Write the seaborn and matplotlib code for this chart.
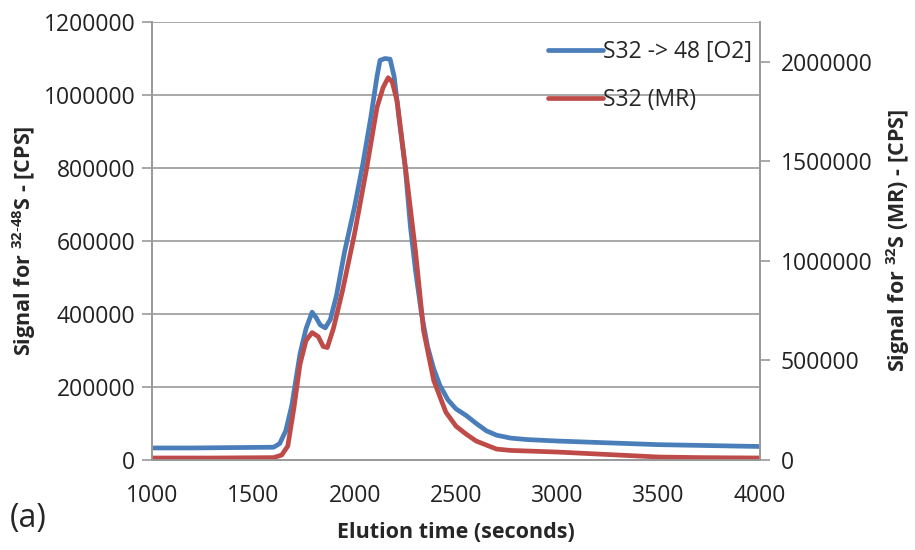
import numpy as np
import matplotlib
matplotlib.use("Agg")
import matplotlib.pyplot as plt
import matplotlib.ticker as mticker
import pandas as pd
import seaborn as sns

# S32 -> 48 [O2], left axis
t_blue = [1000, 1200, 1400, 1600, 1630, 1660, 1690, 1710, 1730, 1760, 1790, 1810, 1830, 1855,
          1880, 1910, 1950, 2000, 2040, 2080, 2110, 2125, 2150, 2175, 2195, 2220, 2250, 2275,
          2300, 2330, 2360, 2390, 2420, 2460, 2500, 2550, 2600, 2650, 2700, 2770, 2850, 3000,
          3200, 3500, 3800, 4000]
sig_blue = [33000, 33000, 34000, 35000, 45000, 80000, 150000, 220000, 290000, 360000, 405000,
            390000, 370000, 362000, 385000, 450000, 570000, 695000, 810000, 940000, 1050000,
            1095000, 1100000, 1098000, 1050000, 930000, 800000, 640000, 520000, 400000, 310000,
            250000, 205000, 165000, 140000, 122000, 100000, 80000, 68000, 60000, 56000, 52000,
            48000, 42000, 39000, 37000]

# S32 (MR), right axis
t_red = [1000, 1300, 1600, 1640, 1670, 1700, 1730, 1760, 1790, 1820, 1845, 1865, 1895, 1940,
         2000, 2060, 2110, 2140, 2165, 2185, 2210, 2260, 2300, 2340, 2390, 2450, 2500, 2550,
         2600, 2650, 2700, 2770, 3000, 3300, 3500, 3700, 4000]
sig_red = [10000, 10000, 12000, 25000, 70000, 260000, 480000, 600000, 640000, 620000, 570000,
           565000, 660000, 850000, 1140000, 1470000, 1770000, 1870000, 1920000, 1900000,
           1800000, 1390000, 1050000, 650000, 400000, 240000, 170000, 130000, 95000, 75000,
           55000, 48000, 40000, 25000, 15000, 12000, 10000]

left_ticks = [0, 200000, 400000, 600000, 800000, 1000000, 1200000]
right_ticks = [0, 500000, 1000000, 1500000, 2000000]
x_ticks = [1000, 1500, 2000, 2500, 3000, 3500, 4000]

sns.set_style("white")
plt.rcParams['font.family'] = ['Open Sans', 'DejaVu Sans']
plt.rcParams['mathtext.fontset'] = 'custom'
plt.rcParams['mathtext.rm'] = 'Open Sans'
plt.rcParams['mathtext.bf'] = 'Open Sans:bold'

blue = "#4A7EBB"
red = "#BE4B48"
grey = "#999999"

fig = plt.figure(figsize=(9.15, 5.5), dpi=100)
ax = fig.add_axes([152 / 915, 90 / 550, 608 / 915, 438 / 550])
ax2 = ax.twinx()

df_b = pd.DataFrame({"t": t_blue, "s": sig_blue})
df_r = pd.DataFrame({"t": t_red, "s": sig_red})
sns.lineplot(data=df_b, x="t", y="s", ax=ax, color=blue, linewidth=3.4, label="S32 -> 48 [O2]", legend=False)
sns.lineplot(data=df_r, x="t", y="s", ax=ax2, color=red, linewidth=3.4, label="S32 (MR)", legend=False)

ax.set_xlim(1000, 4000)
ax.set_ylim(0, 1200000)
ax2.set_ylim(0, 2200000)
ax.set_xticks(x_ticks)
ax.set_yticks(left_ticks)
ax2.set_yticks(right_ticks)
fmt = mticker.FuncFormatter(lambda v, p: f"{int(v)}")
ax.yaxis.set_major_formatter(fmt)
ax2.yaxis.set_major_formatter(fmt)
ax.xaxis.set_major_formatter(fmt)

ax.grid(axis="y", color=grey, linewidth=1.2)
ax.set_axisbelow(True)
for a in (ax, ax2):
    a.spines["top"].set_visible(False)
    for s in ("left", "right", "bottom"):
        a.spines[s].set_color(grey)
        a.spines[s].set_linewidth(1.2)
    a.tick_params(axis="both", labelsize=16.5, length=7, width=1.2)
ax.tick_params(axis="both", colors=grey, labelcolor="#222222")
ax.tick_params(axis="x", pad=10)
ax.tick_params(axis="y", pad=5)
ax2.tick_params(axis="y", colors=grey, labelcolor="#222222", pad=8)

ax.set_xlabel("Elution time (seconds)", fontsize=15.5, fontweight="bold", labelpad=10)
ax.set_ylabel(r"Signal for $^{\mathbf{32\text{-}48}}$S - [CPS]", fontsize=15.5, fontweight="bold", labelpad=4)
ax2.set_ylabel(r"Signal for $^{\mathbf{32}}$S (MR) - [CPS]", fontsize=15.5, fontweight="bold", labelpad=8)

h1, l1 = ax.get_legend_handles_labels()
h2, l2 = ax2.get_legend_handles_labels()
ax2.legend(h1 + h2, l1 + l2, loc="upper right", frameon=False, fontsize=16.5,
           handlelength=2.4, handletextpad=0.0, labelspacing=1.05,
           bbox_to_anchor=(1.01, 0.99), borderaxespad=0.2)

fig.text(10 / 915, 1 - 518 / 550, "(a)", fontsize=23, va="center", ha="left")

fig.savefig("out.png", dpi=100)
